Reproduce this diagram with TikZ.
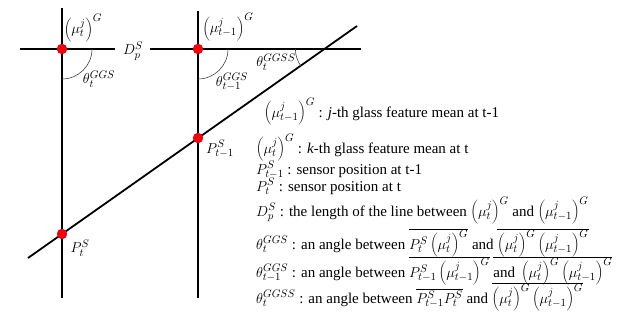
\documentclass[tikz,border=0pt]{standalone}
\usepackage{fontspec}
\setmainfont{Liberation Serif}
\newcommand{\mymu}[1]{\left(\mu_{#1}^{j}\right)^{G}}
\begin{document}
\begin{tikzpicture}[x=1pt,y=-1pt,
  axis/.style={line width=1.8pt},
  anglearc/.style={line width=0.6pt, draw=black!75},
  dot/.style={circle, fill=red, draw=red!70!blue, line width=0.3pt, inner sep=0pt, minimum size=10pt},
  lbl/.style={font=\fontsize{15}{18}\selectfont, inner sep=0pt},
  leg/.style={font=\fontsize{15}{18}\selectfont, anchor=base west, inner sep=0pt}]
\useasboundingbox (0,0) rectangle (637,322);
% geometry
\coordinate (Lt) at (62,8);   \coordinate (Lb) at (62,298);
\coordinate (Ll) at (20,49);  \coordinate (Lr) at (115,49);
\coordinate (Rt) at (198,11); \coordinate (Rb) at (198,298);
\coordinate (Rl) at (150,49); \coordinate (Rr) at (361,49);
\coordinate (Ds) at (28,258); \coordinate (De) at (357,26);
\coordinate (X) at (324.4,49);
\draw[axis] (Lt) -- (Lb);
\draw[axis] (Ll) -- (Lr);
\draw[axis] (Rt) -- (Rb);
\draw[axis] (Rl) -- (Rr);
\draw[axis] (Ds) -- (De);
% dots
\node[dot] (A) at (62,49) {};
\node[dot] (B) at (198,49) {};
\node[dot] (Pt) at (62,234) {};
\node[dot] (Pt1) at (198,138) {};
% angle arcs
\draw[anglearc] (A.center) ++(30,0) arc[start angle=0, end angle=90, radius=30];
\draw[anglearc] (B.center) ++(30,0) arc[start angle=0, end angle=90, radius=30];
\draw[anglearc] (X) ++(-29,0) arc[start angle=180, end angle=144.8, radius=29];
% diagram labels
\node[lbl] (lmt) at (83,28) {$\mymu{t}$};
\node[lbl] (lmt1) at (228,27) {$\mymu{t-1}$};
\node[lbl] (th1) at (99,79) {$\theta_t^{GGS}$};
\node[lbl] (th2) at (232,82) {$\theta_{t-1}^{GGS}$};
\node[lbl] (th3) at (276,62) {$\theta_t^{GGSS}$};
\node[lbl] (dp) at (133,51) {$D_p^S$};
\node[lbl] (p1) at (220,149) {$P_{t-1}^S$};
\node[lbl] (p0) at (80,248) {$P_t^S$};
% legend
\node[leg] (l1) at (264,117) {$\mymu{t-1}$ : \textit{j}-th glass feature mean at t-1};
\node[leg] (l2) at (256,153) {$\mymu{t}$ : \textit{k}-th glass feature mean at t};
\node[leg] (l3) at (256,174) {$P_{t-1}^{S}$ : sensor position at t-1};
\node[leg] (l4) at (256,191) {$P_{t}^{S}$ : sensor position at t};
\node[leg] (l5) at (256,216) {$D_{p}^{S}$ : the length of the line between $\mymu{t}$ and $\mymu{t-1}$};
\node[leg] (l6) at (256,249) {$\theta_t^{GGS}$ : an angle between $\overline{P_t^S\mymu{t}}$ and $\overline{\mymu{t}\mymu{t-1}}$};
\node[leg] (l7) at (256,277) {$\theta_{t-1}^{GGS}$ : an angle between $\overline{P_{t-1}^S\mymu{t-1}}$ $\overline{\mbox{and }\mymu{t}\mymu{t-1}}$};
\node[leg] (l8) at (256,303) {$\theta_t^{GGSS}$ : an angle between $\overline{P_{t-1}^S P_t^S}$ and $\overline{\mymu{t}\mymu{t-1}}$};
\end{tikzpicture}
\end{document}
